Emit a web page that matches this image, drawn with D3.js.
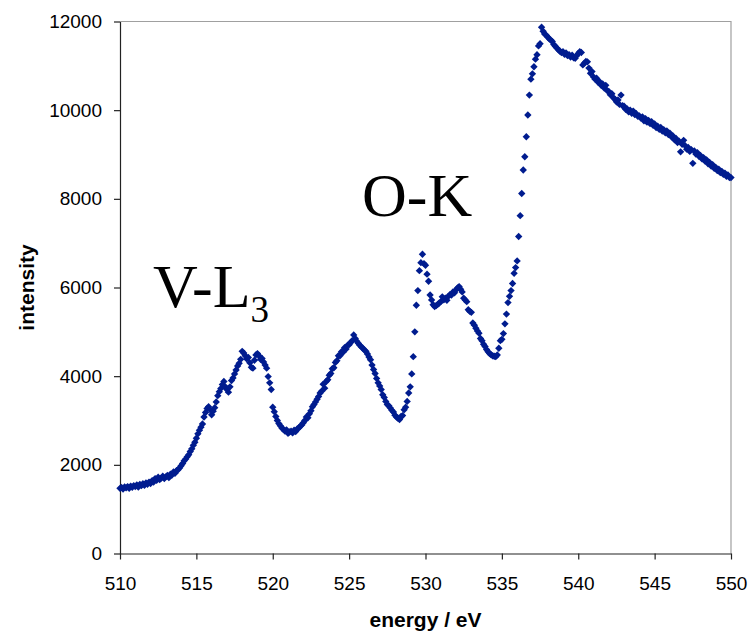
<!DOCTYPE html>
<html>
<head>
<meta charset="utf-8">
<script src="https://cdn.jsdelivr.net/npm/d3@7"></script>
<style>
  body { margin: 0; background: #fff; }
  text { font-family: "Liberation Sans", Arial, sans-serif; }
</style>
</head>
<body>
<script>
// spectrum channels: first energy and channel width (eV)
var energyStart = 510;
var energyStep = 0.1;

// measured intensity, one row per eV (510.0 ... 549.9), last value is 550.0
var intensity = [
  1470, 1490, 1455, 1500, 1480, 1510, 1470, 1520, 1495, 1530,
  1510, 1545, 1500, 1560, 1530, 1575, 1540, 1590, 1560, 1610,
  1580, 1640, 1610, 1690, 1650, 1720, 1670, 1700, 1745, 1690,
  1730, 1760, 1710, 1790, 1770, 1840, 1810, 1870, 1890, 1930,
  1980, 2030, 2090, 2130, 2180, 2230, 2300, 2360, 2440, 2510,
  2600, 2700, 2780, 2850, 2920, 3080, 3180, 3270, 3310, 3240,
  3130, 3210, 3290, 3420, 3560, 3650, 3720, 3810, 3880, 3760,
  3700, 3640, 3760, 3900, 3960, 4050, 4140, 4230, 4290, 4380,
  4560, 4520, 4460, 4390, 4420, 4300, 4200, 4180, 4360, 4480,
  4510, 4460, 4380, 4400, 4320, 4250, 4180, 3990, 3850, 3700,
  3300, 3200, 3090, 3000, 2930, 2880, 2830, 2800, 2760, 2790,
  2710, 2740, 2760, 2720, 2780, 2750, 2810, 2830, 2870, 2900,
  2950, 3000, 3080, 3060, 3150, 3220, 3310, 3360, 3420, 3480,
  3540, 3620, 3660, 3820, 3730, 3880, 3920, 4020, 4060, 4170,
  4190, 4310, 4350, 4460, 4460, 4550, 4540, 4640, 4610, 4700,
  4710, 4760, 4800, 4930, 4850, 4790, 4740, 4700, 4660, 4630,
  4590, 4560, 4500, 4430, 4370, 4250, 4150, 4060, 3950, 3850,
  3780, 3700, 3580, 3520, 3430, 3360, 3330, 3280, 3230, 3190,
  3120, 3080, 3050, 3020, 3090, 3110, 3240, 3300, 3430, 3620,
  3760, 4050, 4440, 5000, 5600, 5930, 6380, 6560, 6750, 6540,
  6500, 6300, 6140, 5830, 5720, 5610, 5570, 5590, 5620, 5650,
  5680, 5790, 5720, 5760, 5710, 5800, 5840, 5830, 5900, 5880,
  5950, 5990, 6020, 5960, 5900, 5760, 5720, 5680, 5500, 5460,
  5440, 5200, 5150, 5080, 5020, 4970, 4850, 4800, 4720, 4670,
  4600, 4550, 4510, 4480, 4460, 4450, 4440, 4480, 4630, 4800,
  4830, 4960, 5180, 5400, 5660, 5800, 5930, 6090, 6320, 6450,
  6600, 7150, 7620, 8120, 8650, 8950, 9400, 9890, 10340, 10700,
  10820, 10980, 11150, 11250, 11450, 11500, 11870, 11780, 11720, 11690,
  11650, 11610, 11580, 11550, 11480, 11440, 11400, 11360, 11330, 11300,
  11320, 11260, 11290, 11230, 11250, 11200, 11240, 11180, 11170, 11230,
  11280, 11320, 11300, 11020, 11060, 11100, 11090, 10950, 10830, 10870,
  10750, 10700, 10720, 10630, 10640, 10560, 10590, 10500, 10560, 10440,
  10420, 10350, 10370, 10280, 10250, 10190, 10230, 10130, 10340, 10100,
  10090, 10020, 10030, 9960, 10000, 9930, 9980, 9900, 9920, 9860,
  9870, 9820, 9850, 9760, 9810, 9730, 9770, 9700, 9740, 9660,
  9690, 9610, 9640, 9570, 9610, 9530, 9560, 9490, 9530, 9450,
  9480, 9400, 9420, 9330, 9360, 9270, 9300, 9060, 9230, 9320,
  9200, 9120, 9160, 9070, 9110, 8800, 9080, 9010, 9040, 8960,
  8980, 8900, 8930, 8850, 8880, 8790, 8820, 8740, 8770, 8690,
  8710, 8640, 8670, 8590, 8620, 8550, 8580, 8510, 8540, 8480,
  8480
];

var xTicks = [510, 515, 520, 525, 530, 535, 540, 545, 550];
var yTicks = [0, 2000, 4000, 6000, 8000, 10000, 12000];

var xTitle = "energy / eV";
var yTitle = "intensity";

var width = 751;
var height = 635;
var margin = {top: 21.5, right: 20, bottom: 81.5, left: 120};
var plotWidth = width - margin.left - margin.right,
    plotHeight = height - margin.top - margin.bottom;

var data = intensity.map(function (v, i) {
    return {energy: energyStart + i * energyStep, value: v};
});

var svg = d3.select("body")
        .append("svg")
        .attr("width", width)
        .attr("height", height);

var x = d3.scaleLinear().domain([510, 550]).range([0, plotWidth]),
    y = d3.scaleLinear().domain([0, 12000]).range([plotHeight, 0]);

var g = svg.append("g")
        .attr("transform", "translate(" + margin.left + "," + margin.top + ")");

// grey frame on top and right
g.append("path")
        .attr("d", "M0,0H" + plotWidth + "V" + plotHeight)
        .attr("fill", "none")
        .attr("stroke", "#a0a0a0")
        .attr("stroke-width", 1.2);

var xAxis = g.append("g")
        .attr("transform", "translate(0," + plotHeight + ")")
        .call(d3.axisBottom(x).tickValues(xTicks).tickFormat(d3.format("d"))
                .tickSize(6).tickPadding(17).tickSizeOuter(0));

var yAxis = g.append("g")
        .call(d3.axisLeft(y).tickValues(yTicks).tickFormat(d3.format("d"))
                .tickSize(6).tickPadding(12).tickSizeOuter(0));

[xAxis, yAxis].forEach(function (a) {
    a.select(".domain").attr("stroke", "#222").attr("stroke-width", 1.2);
    a.selectAll(".tick line").attr("stroke", "#222").attr("stroke-width", 1.2);
    a.selectAll(".tick text")
            .attr("fill", "#000")
            .style("font-family", "'Liberation Sans', Arial, sans-serif")
            .style("font-size", "19px");
});

var marker = d3.symbol().type(d3.symbolSquare).size(27);

g.append("g")
        .selectAll("path")
        .data(data)
        .enter().append("path")
        .attr("d", marker)
        .attr("fill", "#001c8f")
        .attr("transform", function (d) {
            return "translate(" + x(d.energy) + "," + y(d.value) + ") rotate(45)";
        });

svg.append("text")
        .attr("x", margin.left + plotWidth / 2)
        .attr("y", 627)
        .attr("text-anchor", "middle")
        .style("font-size", "21px")
        .style("font-weight", "bold")
        .text(xTitle);

svg.append("text")
        .attr("transform", "translate(34," + (margin.top + plotHeight / 2) + ") rotate(-90)")
        .attr("text-anchor", "middle")
        .style("font-size", "21px")
        .style("font-weight", "bold")
        .text(yTitle);

// edge labels
var serif = "'Liberation Serif', 'Times New Roman', serif";
var vl = svg.append("text")
        .attr("x", 153)
        .attr("y", 307)
        .style("font-family", serif)
        .style("font-size", "62px");
vl.append("tspan").text("V-L");
vl.append("tspan")
        .attr("dy", 15)
        .style("font-size", "37px")
        .text("3");

svg.append("text")
        .attr("x", 362)
        .attr("y", 216)
        .style("font-family", serif)
        .style("font-size", "62px")
        .text("O-K");
</script>
</body>
</html>
